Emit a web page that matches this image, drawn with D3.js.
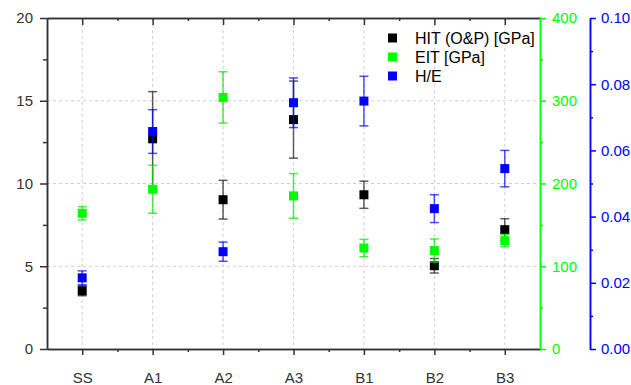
<!DOCTYPE html>
<html>
<head>
<meta charset="utf-8">
<script src="https://cdn.jsdelivr.net/npm/d3@7"></script>
<style>
 body { margin: 0; background: #fff; }
 svg text { font-family: "Liberation Sans", Arial, sans-serif; font-size: 15px; }
</style>
</head>
<body>
<div id="chart"></div>
<script>
// data
var categories = ["SS", "A1", "A2", "A3", "B1", "B2", "B3"];
var hitValues = [3.52, 12.7, 9.02, 13.86, 9.32, 5.03, 7.21];
var hitErrors = [0.3, 2.85, 1.17, 2.33, 0.82, 0.44, 0.66];
var eitValues = [164, 193, 304, 185, 122, 119, 131];
var eitErrors = [8, 29, 31, 27, 10.5, 14, 7.5];
var heValues = [0.0215, 0.0657, 0.0294, 0.0744, 0.0749, 0.0424, 0.0545];
var heErrors = [0.0021, 0.0066, 0.0029, 0.0075, 0.0075, 0.0042, 0.0055];

var leftTicks = [0, 5, 10, 15, 20];
var greenTicks = [0, 100, 200, 300, 400];
var blueTicks = [0, 0.02, 0.04, 0.06, 0.08, 0.1];

var width = 631, height = 385;
var plotLeft = 47, plotRight = 540, plotTop = 18, plotBottom = 349;

var svg = d3.select("#chart").append("svg")
  .attr("width", width)
  .attr("height", height);

var x = d3.scaleLinear().domain([-0.5, 6.5]).range([plotLeft, plotRight]);
var yL = d3.scaleLinear().domain([0, 20]).range([plotBottom, plotTop]);
var yG = d3.scaleLinear().domain([0, 400]).range([plotBottom, plotTop]);
var yB = d3.scaleLinear().domain([0, 0.1]).range([plotBottom, plotTop]);

// grid
var grid = svg.append("g").attr("stroke", "#cfcfcf").attr("stroke-dasharray", "3,3").attr("stroke-width", 1);
grid.selectAll(".gx").data(d3.range(categories.length)).enter().append("line")
  .attr("x1", d => x(d)).attr("x2", d => x(d))
  .attr("y1", plotTop).attr("y2", plotBottom);
grid.selectAll(".gy").data([5, 10, 15]).enter().append("line")
  .attr("x1", plotLeft).attr("x2", plotRight)
  .attr("y1", d => yL(d)).attr("y2", d => yL(d));

function styleAxis(g, color) {
  g.select(".domain").attr("stroke", color).attr("stroke-width", 1.5);
  g.selectAll(".tick line").attr("stroke", color).attr("stroke-width", 1.5);
  g.selectAll(".tick text").attr("fill", color).style("font-size", "15px");
}

// bottom axis
var xb = svg.append("g").attr("transform", `translate(0,${plotBottom})`)
  .call(d3.axisBottom(x).tickValues(d3.range(categories.length)).tickFormat(i => categories[i])
    .tickSize(6).tickPadding(17).tickSizeOuter(0));
styleAxis(xb, "#333");
var xbm = svg.append("g").attr("transform", `translate(0,${plotBottom})`)
  .call(d3.axisBottom(x).tickValues(d3.range(0.5, 6, 1)).tickFormat("").tickSize(3).tickSizeOuter(0));
styleAxis(xbm, "#333");

// top border
var xt = svg.append("g").attr("transform", `translate(0,${plotTop})`)
  .call(d3.axisTop(x).tickValues(d3.range(categories.length)).tickFormat("").tickSize(-7).tickSizeOuter(0));
styleAxis(xt, "#333");
var xtm = svg.append("g").attr("transform", `translate(0,${plotTop})`)
  .call(d3.axisTop(x).tickValues(d3.range(0.5, 6, 1)).tickFormat("").tickSize(-3).tickSizeOuter(0));
styleAxis(xtm, "#333");

// left axis
var yl = svg.append("g").attr("transform", `translate(${plotLeft},0)`)
  .call(d3.axisLeft(yL).tickValues(leftTicks).tickSize(7).tickPadding(7).tickSizeOuter(0));
styleAxis(yl, "#333");
var ylm = svg.append("g").attr("transform", `translate(${plotLeft},0)`)
  .call(d3.axisLeft(yL).tickValues([2.5, 7.5, 12.5, 17.5]).tickFormat("").tickSize(4).tickSizeOuter(0));
styleAxis(ylm, "#333");

// green axis
var yg = svg.append("g").attr("transform", `translate(${plotRight},0)`)
  .call(d3.axisRight(yG).tickValues(greenTicks).tickSize(6).tickPadding(6).tickSizeOuter(0));
styleAxis(yg, "#00ff00");
var ygm = svg.append("g").attr("transform", `translate(${plotRight},0)`)
  .call(d3.axisRight(yG).tickValues([50, 150, 250, 350]).tickFormat("").tickSize(3).tickSizeOuter(0));
styleAxis(ygm, "#00ff00");

// blue axis
var yb = svg.append("g").attr("transform", "translate(590,0)")
  .call(d3.axisRight(yB).tickValues(blueTicks).tickFormat(d3.format(".2f")).tickSize(6).tickPadding(5).tickSizeOuter(0));
styleAxis(yb, "#0000ff");
var ybm = svg.append("g").attr("transform", "translate(590,0)")
  .call(d3.axisRight(yB).tickValues([0.01, 0.03, 0.05, 0.07, 0.09]).tickFormat("").tickSize(3).tickSizeOuter(0));
styleAxis(ybm, "#0000ff");

// series with error bars
function drawSeries(vals, errs, scale, color, barColor) {
  var g = svg.append("g");
  var pts = vals.map((v, i) => ({ i: i, v: v, e: errs[i] }));
  g.selectAll(".eb").data(pts).enter().append("line")
    .attr("x1", d => x(d.i)).attr("x2", d => x(d.i))
    .attr("y1", d => scale(d.v - d.e)).attr("y2", d => scale(d.v + d.e))
    .attr("stroke", barColor).attr("stroke-width", 1.5);
  [-1, 1].forEach(function (s) {
    g.selectAll(".cap" + s).data(pts).enter().append("line")
      .attr("x1", d => x(d.i) - 4.5).attr("x2", d => x(d.i) + 4.5)
      .attr("y1", d => scale(d.v + s * d.e)).attr("y2", d => scale(d.v + s * d.e))
      .attr("stroke", barColor).attr("stroke-width", 1.5);
  });
  g.selectAll("rect").data(pts).enter().append("rect")
    .attr("x", d => x(d.i) - 4.5).attr("y", d => scale(d.v) - 4.5)
    .attr("width", 9).attr("height", 9)
    .attr("fill", color);
}

drawSeries(hitValues, hitErrors, yL, "#000000", "rgba(40,40,40,0.75)");
drawSeries(eitValues, eitErrors, yG, "#00ff00", "rgba(0,230,0,0.7)");
drawSeries(heValues, heErrors, yB, "#0000ff", "rgba(0,0,255,0.7)");

// legend
var legendNames = ["HIT (O&P) [GPa]", "EIT [GPa]", "H/E"];
var legendColors = ["#000000", "#00ff00", "#0000ff"];
var legend = svg.append("g").attr("transform", "translate(388,38)");
legendNames.forEach(function (name, i) {
  legend.append("rect")
    .attr("x", 0).attr("y", i * 19 - 4.5).attr("width", 9).attr("height", 9)
    .attr("fill", legendColors[i]);
  legend.append("text")
    .attr("x", 27).attr("y", i * 19).attr("dy", "0.35em")
    .attr("fill", "#000")
    .style("font-size", "16px")
    .text(name);
});
</script>
</body>
</html>
